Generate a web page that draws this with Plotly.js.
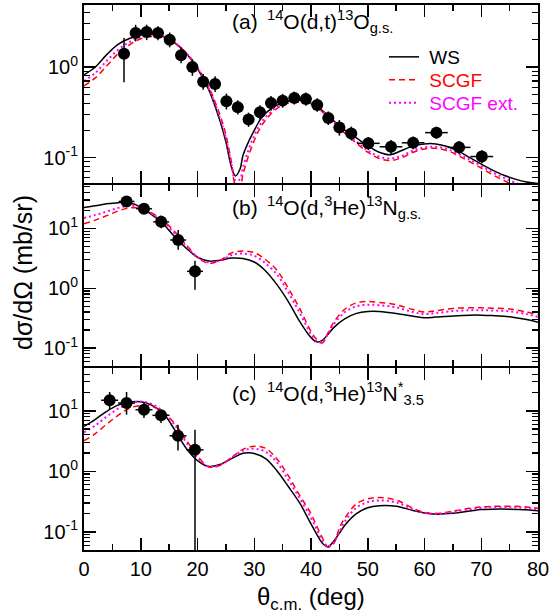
<!DOCTYPE html>
<html><head><meta charset="utf-8">
<script src="https://cdn.plot.ly/plotly-3.0.1.min.js"></script>
<style>body{margin:0;background:#fff}#chart{width:550px;height:615px}</style>
</head><body><div id="chart"></div>
<script>
// ---------- Panel (a): 14O(d,t)13O g.s. ----------
const thetaA = [0,2,4,6,8,10,12,14,16,18,20,22,24,25,26,26.7,27.5,28,29,30,31,32,34,36,38,40,42,44,46,48,50,52,54,56,58,60,62,64,66,68,70,72,74,76,78,80];
const wsA   = [0.82,1.0,1.37,1.78,2.06,2.26,2.32,2.17,1.85,1.42,0.96,0.56,0.25,0.15,0.078,0.063,0.075,0.105,0.15,0.2,0.26,0.31,0.38,0.42,0.43,0.40,0.33,0.255,0.2,0.165,0.135,0.115,0.108,0.12,0.135,0.142,0.142,0.133,0.118,0.1,0.085,0.073,0.064,0.058,0.054,0.052];
const scgfA = [0.62,0.76,1.03,1.4,1.75,2.05,2.17,2.12,1.85,1.43,0.99,0.6,0.29,0.18,0.088,0.05,0.047,0.065,0.105,0.155,0.21,0.26,0.35,0.4,0.41,0.385,0.32,0.245,0.185,0.145,0.115,0.098,0.093,0.1,0.115,0.125,0.127,0.12,0.105,0.09,0.077,0.065,0.056,0.049,0.045,0.043];
const extA  = [0.70,0.86,1.17,1.55,1.88,2.13,2.22,2.14,1.85,1.43,0.98,0.58,0.27,0.165,0.083,0.056,0.058,0.078,0.123,0.175,0.23,0.28,0.36,0.41,0.42,0.39,0.325,0.25,0.19,0.15,0.12,0.103,0.098,0.105,0.12,0.13,0.132,0.125,0.11,0.095,0.081,0.069,0.06,0.053,0.048,0.046];
const expThetaA = [7.05,9.1,11.04,13.04,15.1,17.1,19.1,21.0,23.1,25.1,27.1,29.0,31.0,32.95,35.0,37.06,39.1,41.1,43.05,45.0,47.1,50.1,54.1,58.0,62.1,66.1,70.1];
const expA      = [1.40,2.37,2.43,2.37,2.0,1.35,1.0,0.69,0.65,0.42,0.36,0.264,0.318,0.40,0.426,0.456,0.445,0.382,0.274,0.215,0.185,0.144,0.132,0.146,0.189,0.130,0.103];
const errUpA    = [0.69,0.55,0.5,0.45,0.4,0.3,0.22,0.15,0.14,0.09,0.07,0.05,0.06,0.08,0.08,0.08,0.08,0.07,0.05,0.045,0.035,0.025,0.025,0.025,0.03,0.022,0.018];
const errDnA    = [0.72,0.45,0.45,0.4,0.35,0.25,0.2,0.13,0.12,0.08,0.06,0.045,0.055,0.07,0.07,0.07,0.07,0.06,0.045,0.04,0.03,0.023,0.022,0.022,0.027,0.02,0.016];
const errThA    = [1,1,1,1,1,1,1,1,1,1,1,1,1,1,1,1,1,1,1,1,1,2,2,2,2,2,2];

// ---------- Panel (b): 14O(d,3He)13N g.s. ----------
const thetaB = [0,2,4,6,8,10,12,14,16,18,20,22,24,26,28,30,32,34,36,38,40,41,42,43,44,46,48,50,52,55,58,60,62,65,68,70,72,75,78,80];
const wsB   = [22.5,24,25.8,27,27,22.8,16.8,11.8,7.2,4.7,3.3,2.85,2.95,3.2,3.15,2.75,1.95,1.15,0.6,0.28,0.15,0.127,0.135,0.17,0.22,0.31,0.38,0.41,0.41,0.38,0.34,0.32,0.33,0.345,0.355,0.355,0.35,0.335,0.3,0.27];
const scgfB = [12,13.8,16.4,19.6,22,21.8,18,13.5,8.8,5.4,3.3,2.6,2.95,3.9,4.2,3.95,3.0,2.0,1.0,0.46,0.19,0.14,0.122,0.18,0.27,0.45,0.57,0.6,0.58,0.53,0.44,0.4,0.42,0.46,0.47,0.47,0.465,0.45,0.4,0.36];
const extB  = [15,16.8,19.2,22,24,22.5,17.5,12.8,8.2,5.1,3.3,2.7,2.9,3.6,3.8,3.5,2.6,1.7,0.85,0.39,0.17,0.13,0.125,0.175,0.25,0.4,0.5,0.53,0.52,0.48,0.4,0.37,0.385,0.415,0.43,0.43,0.425,0.41,0.37,0.33];
const expThetaB = [7.5,10.57,13.6,16.6,19.56];
const expB      = [28.3,21.4,12.9,6.41,1.92];
const errUpB    = [3.5,2.5,3.5,3.0,0.96];
const errDnB    = [3.0,2.5,2.8,2.0,0.98];
const errThB    = [1.4,1.4,1.4,1.4,1.4];

// ---------- Panel (c): 14O(d,3He)13N* 3.5 ----------
const thetaC = [0,2,4,6,8,10,12,14,16,18,20,22,24,26,28,30,32,34,36,38,40,41,42,43,44,45,46,48,50,52,55,58,60,62,65,68,70,72,75,78,80];
const wsC   = [5.5,7.2,9.8,12.4,14.0,14.1,12.3,9.0,4.8,2.4,1.5,1.2,1.3,1.62,1.98,1.97,1.62,1.02,0.56,0.3,0.135,0.092,0.065,0.057,0.07,0.095,0.13,0.2,0.25,0.27,0.265,0.225,0.205,0.196,0.202,0.22,0.233,0.237,0.237,0.232,0.223];
const scgfC = [3.2,4.2,6.0,8.4,11.0,12.2,11.8,9.3,6.1,3.3,1.8,1.18,1.25,1.7,2.3,2.6,2.4,1.6,0.85,0.4,0.2,0.125,0.08,0.056,0.064,0.115,0.17,0.29,0.35,0.37,0.335,0.245,0.21,0.2,0.22,0.245,0.258,0.264,0.265,0.258,0.244];
const extC  = [4.4,5.7,8.0,10.8,13.2,14.2,12.8,9.6,5.8,3.0,1.7,1.2,1.28,1.68,2.2,2.35,2.1,1.4,0.72,0.36,0.17,0.11,0.073,0.057,0.066,0.1,0.15,0.25,0.31,0.33,0.305,0.235,0.205,0.198,0.21,0.235,0.248,0.255,0.255,0.248,0.236];
const expThetaC = [4.52,7.5,10.57,13.57,16.56,19.56];
const expC      = [14.9,13.4,10.4,8.4,3.86,2.26];
const errUpC    = [5.5,7.0,3.0,2.0,2.0,2.6];
const errDnC    = [4.5,4.8,2.8,2.1,1.66,2.25];
const errThC    = [1.5,1.5,1.5,1.5,1.5,1.5];

// ---------- labels ----------
const seriesNames = ['WS','SCGF','SCGF ext.'];
const panelTags = ['(a)','(b)','(c)'];
const reactions = ['<sup>14</sup>O(d,t)<sup>13</sup>O<sub>g.s.</sub>',
                   '<sup>14</sup>O(d,<sup>3</sup>He)<sup>13</sup>N<sub>g.s.</sub>',
                   '<sup>14</sup>O(d,<sup>3</sup>He)<sup>13</sup>N<sup>*</sup><sub>3.5</sub>'];
const xTickVals = [0,10,20,30,40,50,60,70,80];
const yTickValsA = [0.1,1];
const yTickTextA = ['10<sup>-1</sup>','10<sup>0</sup>'];
const yTickValsBC = [0.1,1,10];
const yTickTextBC = ['10<sup>-1</sup>','10<sup>0</sup>','10<sup>1</sup>'];
const yTitle = 'dσ/dΩ (mb/sr)';
const xTitle = 'θ<sub>c.m.</sub> (deg)';

// ---------- styling ----------
const FONT = 'Liberation Sans, Arial, Helvetica, sans-serif';
const colors = ['#000000','#ff0000','#ff00ff'];
const dashes = ['solid','6px,4px','2px,3px'];
const legendIds = ['legend','legend2','legend3'];
const legendRowsPx = [57, 80, 103];

const panels = [
  {x:'x', y:'y', th:thetaA, c:[wsA,scgfA,extA], ex:expThetaA, ey:expA, up:errUpA, dn:errDnA, eth:errThA, legend:true},
  {x:'x2', y:'y2', th:thetaB, c:[wsB,scgfB,extB], ex:expThetaB, ey:expB, up:errUpB, dn:errDnB, eth:errThB, legend:false},
  {x:'x3', y:'y3', th:thetaC, c:[wsC,scgfC,extC], ex:expThetaC, ey:expC, up:errUpC, dn:errDnC, eth:errThC, legend:false}
];

const traces = [];
panels.forEach(p => {
  for (let i = 0; i < 3; i++) {
    traces.push({
      type:'scatter', mode:'lines', x:p.th, y:p.c[i], xaxis:p.x, yaxis:p.y,
      name: '\u00a0<span style="color:' + colors[i] + '">' + seriesNames[i] + '</span>',
      legend: legendIds[i], showlegend: p.legend,
      line:{color:colors[i], width: i===2 ? 2 : 1.5, dash:dashes[i], shape:'spline', smoothing:1},
      hoverinfo:'skip'
    });
  }
});
panels.forEach(p => {
  traces.push({
    type:'scatter', mode:'markers', x:p.ex, y:p.ey, xaxis:p.x, yaxis:p.y, showlegend:false,
    marker:{color:'#000', size:12, symbol:'circle'},
    error_y:{type:'data', symmetric:false, array:p.up, arrayminus:p.dn, color:'#000', thickness:1.5, width:0},
    error_x:{type:'data', array:p.eth, color:'#000', thickness:1.5, width:0}
  });
});

function minorLog(lo, hi) {
  const v = [];
  for (let e = -3; e <= 3; e++) for (let m = 2; m <= 9; m++) {
    const val = m * Math.pow(10, e);
    if (val > lo && val < hi) v.push(val);
  }
  return v;
}

const tickFont = {family:FONT, size:20, color:'#000'};
function xax(anchor, labels) {
  return {anchor:anchor, domain:[0,1], range:[0,80], tickmode:'array', tickvals:xTickVals,
    ticks:'inside', ticklen:12, tickwidth:1.5, tickcolor:'#000',
    minor:{dtick:5, tick0:0, ticks:'inside', ticklen:6, tickwidth:1.5, tickcolor:'#000'},
    showline:true, linewidth:2, linecolor:'#000', mirror:'ticks',
    showgrid:false, zeroline:false, showticklabels:labels, tickfont:tickFont};
}
function yax(domain, range, tv, tt) {
  const lo = Math.pow(10, range[0]), hi = Math.pow(10, range[1]);
  return {type:'log', domain:domain, range:range, tickmode:'array', tickvals:tv, ticktext:tt,
    ticks:'inside', ticklen:12, tickwidth:1.5, tickcolor:'#000',
    minor:{tickmode:'array', tickvals:minorLog(lo, hi), ticks:'inside', ticklen:6, tickwidth:1.2, tickcolor:'#000'},
    showline:true, linewidth:2, linecolor:'#000', mirror:'ticks',
    showgrid:false, zeroline:false, tickfont:tickFont};
}

const H = 545;
// plot areas in px from top: a 5..183, b 185..366, c 368..550 (axis lines overlap at the seams)
const dA = [(550-183)/H, 1], dB = [(550-366)/H, (550-185)/H], dC = [0, (550-368)/H];

const annFont = {family:FONT, size:21, color:'#000'};
const annotations = [];
const labelY = [22, 207, 393];
for (let i = 0; i < 3; i++) {
  annotations.push({xref:'paper', yref:'paper', x:(230-84)/454, y:(550-labelY[i])/H, xanchor:'left', yanchor:'middle',
    text:panelTags[i], showarrow:false, font:annFont});
  annotations.push({xref:'paper', yref:'paper', x:(265-84)/454, y:(550-labelY[i])/H, xanchor:'left', yanchor:'middle',
    text:reactions[i], showarrow:false, font:annFont});
}
annotations.push({xref:'paper', yref:'paper', x:(23-84)/454, y:(550-273)/H, xanchor:'center', yanchor:'middle',
  text:yTitle, textangle:-90, showarrow:false, font:{family:FONT, size:25, color:'#000'}});
annotations.push({xref:'paper', yref:'paper', x:0.5, y:(550-598)/H, xanchor:'center', yanchor:'middle',
  text:xTitle, showarrow:false, font:{family:FONT, size:24, color:'#000'}});

function legendAt(rowPx) {
  return {x:(384-84)/454, y:(550-rowPx)/H, xanchor:'left', yanchor:'middle', bgcolor:'rgba(0,0,0,0)',
    borderwidth:0, font:{family:FONT, size:19, color:'#000'}};
}

const layout = {
  width:550, height:615,
  margin:{l:84, r:12, t:5, b:65},
  paper_bgcolor:'#fff', plot_bgcolor:'#fff',
  showlegend:true,
  legend: legendAt(legendRowsPx[0]),
  legend2: legendAt(legendRowsPx[1]),
  legend3: legendAt(legendRowsPx[2]),
  xaxis: xax('y', false),
  xaxis2: xax('y2', false),
  xaxis3: xax('y3', true),
  yaxis: yax(dA, [-1.279, 0.684], yTickValsA, yTickTextA),
  yaxis2: yax(dB, [-1.30, 1.727], yTickValsBC, yTickTextBC),
  yaxis3: yax(dC, [-1.30, 1.706], yTickValsBC, yTickTextBC),
  annotations: annotations,
  font:{family:FONT, color:'#000'}
};

Plotly.newPlot('chart', traces, layout, {displayModeBar:false, staticPlot:true});
</script>
</body></html>
